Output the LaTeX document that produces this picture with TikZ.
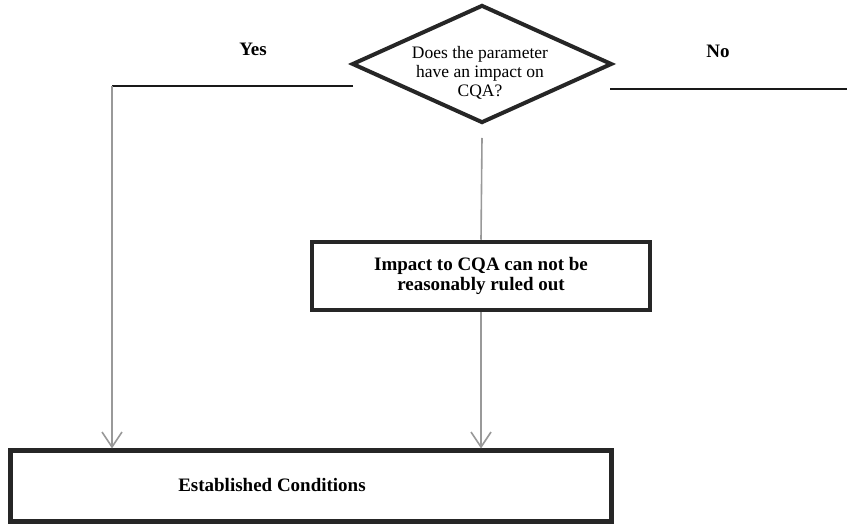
\documentclass[tikz,border=0pt]{standalone}
\usepackage{fontspec}
\setmainfont{Liberation Serif}
\usetikzlibrary{shapes.geometric,arrows.meta}

\begin{document}
\begin{tikzpicture}[x=1pt, y=-1pt,
		darkline/.style={line width=2pt, black!90},
		greyline/.style={line width=1.6pt, black!40},
		greyarrow/.style={greyline, -{Straight Barb[length=15pt,width=20pt,line width=1.6pt]}},
		boxed/.style={draw=black!85, line width=4.5pt, inner sep=0pt, align=center},
		boldtext/.style={font=\fontsize{19}{20.5}\selectfont\bfseries, align=center}]
		\useasboundingbox[fill=white] (0,0) rectangle (847,526);
		% question
		\node[boxed, shape=diamond, line width=4pt, minimum width=260pt, minimum height=118pt] (question) at (482,64) {};
		\node[font=\fontsize{17.5}{19}\selectfont, align=center] (questiontext) at (480,73) {Does the parameter\\have an impact on\\CQA?};
		\node[boldtext] (yes) at (253,49) {Yes};
		\node[boldtext] (no) at (718,51) {No};
		\coordinate (yesend) at (353,86);
		\coordinate (yescorner) at (112,86);
		\coordinate (noend) at (610,89);
		\coordinate (noedge) at (847,89);
		\coordinate (midstart) at (482,138);
		% boxes
		\node[boxed, boldtext, minimum width=338pt, minimum height=68pt] (impact) at (481,276) {Impact to CQA can not be\\reasonably ruled out};
		\node[boxed, line width=5pt, minimum width=601pt, minimum height=71pt] (established) at (310.5,486.5) {};
		\node[boldtext] (establishedtext) at (272,485) {Established Conditions};
		% connectors
		\draw[darkline] (yesend) -- (yescorner);
		\draw[greyarrow] (yescorner) -- (yescorner |- established.north);
		\draw[darkline] (noend) -- (noedge);
		\draw[greyline] (midstart) -- (impact.north);
		\draw[greyarrow] (impact.south) -- (impact.south |- established.north);
\end{tikzpicture}
\end{document}
